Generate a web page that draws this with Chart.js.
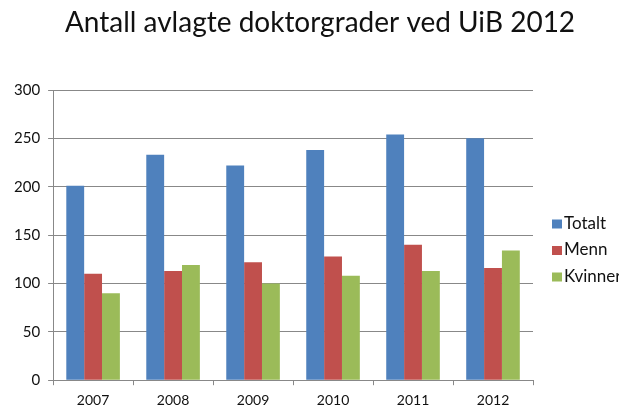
<!DOCTYPE html>
<html>
<head>
<meta charset="utf-8">
<script src="https://cdn.jsdelivr.net/npm/chart.js@4/dist/chart.umd.min.js"></script>
<style>
  html, body { margin: 0; padding: 0; background: #fff; }
  #wrap { width: 619px; height: 408px; }
</style>
</head>
<body>
<div id="wrap"><canvas id="chart" width="619" height="408"></canvas></div>
<script>
const years = ['2007', '2008', '2009', '2010', '2011', '2012'];
const totalt = [201, 233, 222, 238, 254, 250];
const menn = [110, 113, 122, 128, 140, 116];
const kvinner = [90, 119, 100, 108, 113, 134];
const yTicks = [0, 50, 100, 150, 200, 250, 300];
const titleText = 'Antall avlagte doktorgrader ved UiB 2012';

const gridGray = '#888888';
const font = 'Lato, "Open Sans", sans-serif';

// title sits a little right of the canvas centre, like the original slide
const titlePlugin = {
    id: 'slideTitle',
    afterDraw(chart) {
        const ctx = chart.ctx;
        ctx.save();
        ctx.fillStyle = '#111';
        ctx.font = `28px ${font}`;
        ctx.textAlign = 'center';
        ctx.textBaseline = 'middle';
        ctx.fillText(titleText, 320, 23);
        ctx.restore();
    },
};

// Excel-style legend to the right of the plot, cut off by the canvas edge
const sideLegend = {
    id: 'sideLegend',
    afterDraw(chart) {
        const { ctx, chartArea } = chart;
        const sets = chart.data.datasets;
        const step = 26.5;
        const midY = (chartArea.top + chart.height) / 2 + 1;
        const x = chartArea.right + 19;
        ctx.save();
        ctx.font = `17px ${font}`;
        ctx.textBaseline = 'middle';
        sets.forEach((ds, i) => {
            const y = midY + (i - (sets.length - 1) / 2) * step;
            ctx.fillStyle = ds.backgroundColor;
            ctx.fillRect(x, y - 4, 10, 9);
            ctx.fillStyle = '#111';
            ctx.fillText(ds.label, x + 12, y);
        });
        ctx.restore();
    },
};

const chartEl = document.getElementById('chart');
new Chart(chartEl.getContext('2d'), {
    type: 'bar',
    data: {
        labels: years,
        datasets: [
            { label: 'Totalt', data: totalt, backgroundColor: '#4F81BD' },
            { label: 'Menn', data: menn, backgroundColor: '#C0504D' },
            { label: 'Kvinner', data: kvinner, backgroundColor: '#9BBB59' },
        ],
    },
    plugins: [titlePlugin, sideLegend],
    options: {
        responsive: false,
        animation: false,
        datasets: { bar: { categoryPercentage: 0.67, barPercentage: 1.0 } },
        layout: { padding: { top: 90, left: 6, right: 86, bottom: -8 } },
        plugins: {
            title: { display: false },
            legend: { display: false },
            tooltip: { enabled: false },
        },
        scales: {
            x: {
                grid: { offset: true, drawOnChartArea: false, tickLength: 5, color: gridGray },
                border: { color: gridGray },
                ticks: { color: '#111', font: { family: font, size: 14 }, padding: 7 },
            },
            y: {
                min: 0,
                max: 300,
                afterBuildTicks: (axis) => { axis.ticks = yTicks.map((v) => ({ value: v })); },
                grid: { color: gridGray, tickLength: 5 },
                border: { color: gridGray },
                ticks: { color: '#111', font: { family: font, size: 15 }, padding: 8 },
            },
        },
    },
});
</script>
</body>
</html>
